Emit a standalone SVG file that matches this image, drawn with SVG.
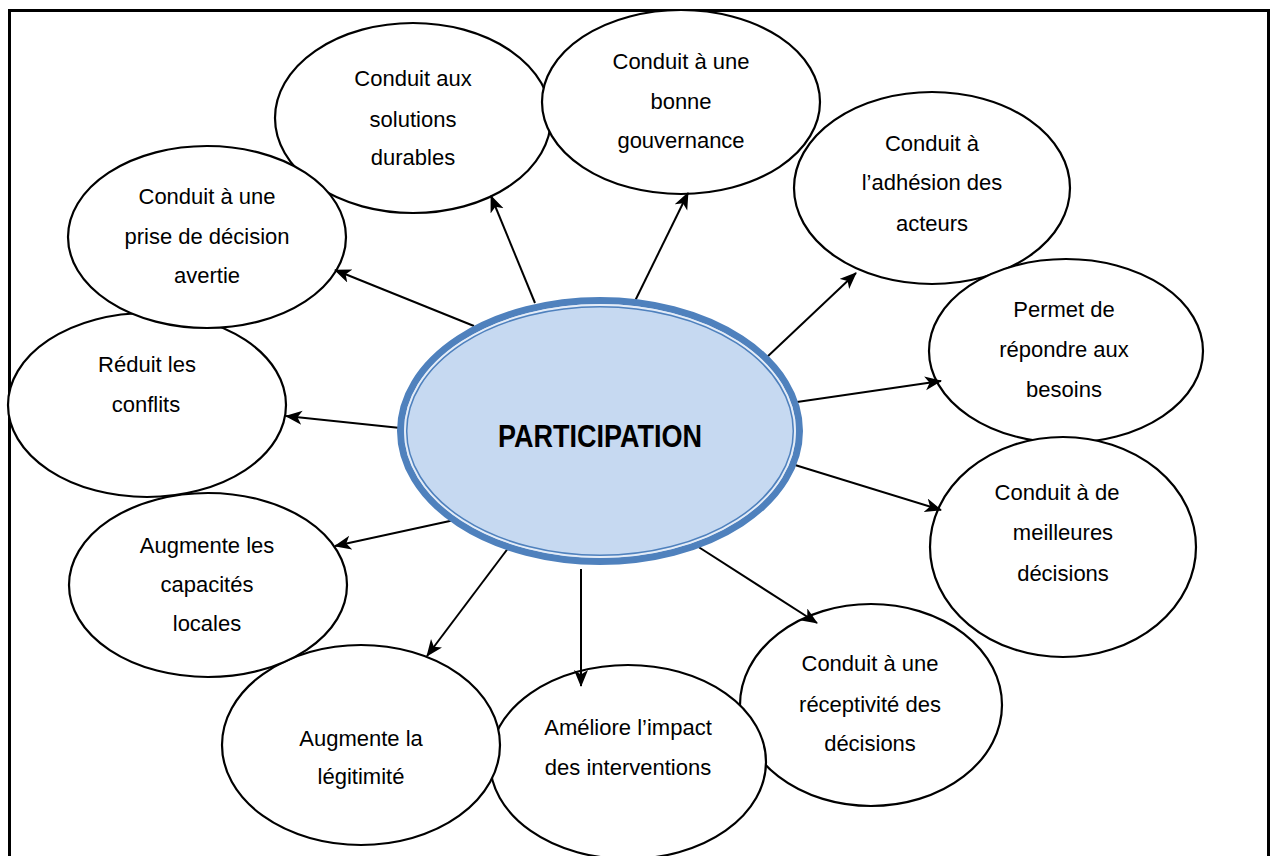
<svg xmlns="http://www.w3.org/2000/svg" width="1277" height="856" viewBox="0 0 1277 856">
  <style>
    .node ellipse { fill: #ffffff; stroke: #000000; stroke-width: 2.2; }
    .node text { font-family: "Liberation Sans", Arial, sans-serif; font-size: 22px; fill: #000000; text-anchor: middle; }
    .edge { stroke: #000000; stroke-width: 2; fill: none; marker-end: url(#arrow); }
    .title { font-family: "Liberation Sans", Arial, sans-serif; font-size: 32px; font-weight: bold; fill: #000000; text-anchor: middle; }
  </style>
  <defs>
    <marker id="arrow" markerUnits="userSpaceOnUse" markerWidth="18" markerHeight="16" refX="16" refY="7" orient="auto">
      <path d="M0,0 L17,7 L0,14 L4.5,7 z" fill="#000000"/>
    </marker>
  </defs>

  <rect width="1277" height="856" fill="#ffffff"/>
  <!-- page frame, open at the bottom -->
  <path d="M9.5,856 V10.5 H1268.5 V856" fill="none" stroke="#000000" stroke-width="3"/>

  <!-- outer nodes -->
  <g id="node-solutions" class="node">
    <ellipse cx="413" cy="118" rx="138" ry="95"/>
    <text x="413" y="86">Conduit aux</text>
    <text x="413" y="127">solutions</text>
    <text x="413" y="165">durables</text>
  </g>
  <g id="node-gouvernance" class="node">
    <ellipse cx="681" cy="102" rx="139" ry="92"/>
    <text x="681" y="69">Conduit à une</text>
    <text x="681" y="109">bonne</text>
    <text x="681" y="148">gouvernance</text>
  </g>
  <g id="node-adhesion" class="node">
    <ellipse cx="932" cy="188" rx="138" ry="96"/>
    <text x="932" y="151">Conduit à</text>
    <text x="932" y="190">l’adhésion des</text>
    <text x="932" y="231">acteurs</text>
  </g>
  <g id="node-besoins" class="node">
    <ellipse cx="1066" cy="351" rx="137" ry="92"/>
    <text x="1064" y="317">Permet de</text>
    <text x="1064" y="357">répondre aux</text>
    <text x="1064" y="397">besoins</text>
  </g>
  <g id="node-meilleures" class="node">
    <ellipse cx="1063" cy="547" rx="133" ry="110"/>
    <text x="1057" y="500">Conduit à de</text>
    <text x="1063" y="540">meilleures</text>
    <text x="1063" y="581">décisions</text>
  </g>
  <g id="node-receptivite" class="node">
    <ellipse cx="871" cy="705" rx="131" ry="101"/>
    <text x="870" y="671">Conduit à une</text>
    <text x="870" y="712">réceptivité des</text>
    <text x="870" y="751">décisions</text>
  </g>
  <g id="node-impact" class="node">
    <ellipse cx="628" cy="762" rx="138" ry="97"/>
    <text x="628" y="735">Améliore l’impact</text>
    <text x="628" y="775">des interventions</text>
  </g>
  <g id="node-legitimite" class="node">
    <ellipse cx="361" cy="745" rx="139" ry="100"/>
    <text x="361" y="746">Augmente la</text>
    <text x="361" y="784">légitimité</text>
  </g>
  <g id="node-capacites" class="node">
    <ellipse cx="208" cy="585" rx="139" ry="92"/>
    <text x="207" y="553">Augmente les</text>
    <text x="207" y="592">capacités</text>
    <text x="207" y="631">locales</text>
  </g>
  <g id="node-conflits" class="node">
    <ellipse cx="147" cy="405" rx="139" ry="92"/>
    <text x="147" y="372">Réduit les</text>
    <text x="146" y="412">conflits</text>
  </g>
  <g id="node-avertie" class="node">
    <ellipse cx="207" cy="237" rx="139" ry="91"/>
    <text x="207" y="204">Conduit à une</text>
    <text x="207" y="244">prise de décision</text>
    <text x="207" y="283">avertie</text>
  </g>

  <!-- connectors from the centre outwards -->
  <g id="connectors">
    <line class="edge" x1="474" y1="326" x2="335" y2="270"/>
    <line class="edge" x1="535" y1="303" x2="491" y2="196"/>
    <line class="edge" x1="634" y1="303" x2="688" y2="193"/>
    <line class="edge" x1="766" y1="358" x2="856" y2="273"/>
    <line class="edge" x1="797" y1="402" x2="941" y2="381"/>
    <line class="edge" x1="795" y1="465" x2="941" y2="510"/>
    <line class="edge" x1="697" y1="546" x2="817" y2="623"/>
    <line class="edge" x1="581" y1="569" x2="581" y2="686"/>
    <line class="edge" x1="509" y1="547" x2="427" y2="656"/>
    <line class="edge" x1="459" y1="519" x2="335" y2="546"/>
    <line class="edge" x1="410" y1="429" x2="286" y2="416"/>
  </g>

  <!-- central node -->
  <g id="node-participation">
    <ellipse cx="600" cy="431" rx="199.5" ry="130.5" fill="#C6D9F1" stroke="#4F81BD" stroke-width="7"/>
    <ellipse cx="600" cy="431" rx="195" ry="126" fill="none" stroke="#E4ECF7" stroke-width="2"/>
    <ellipse cx="600" cy="431" rx="193.3" ry="124.3" fill="none" stroke="#4F81BD" stroke-width="1.5"/>
    <text class="title" x="600" y="447" textLength="204" lengthAdjust="spacingAndGlyphs">PARTICIPATION</text>
  </g>
</svg>
